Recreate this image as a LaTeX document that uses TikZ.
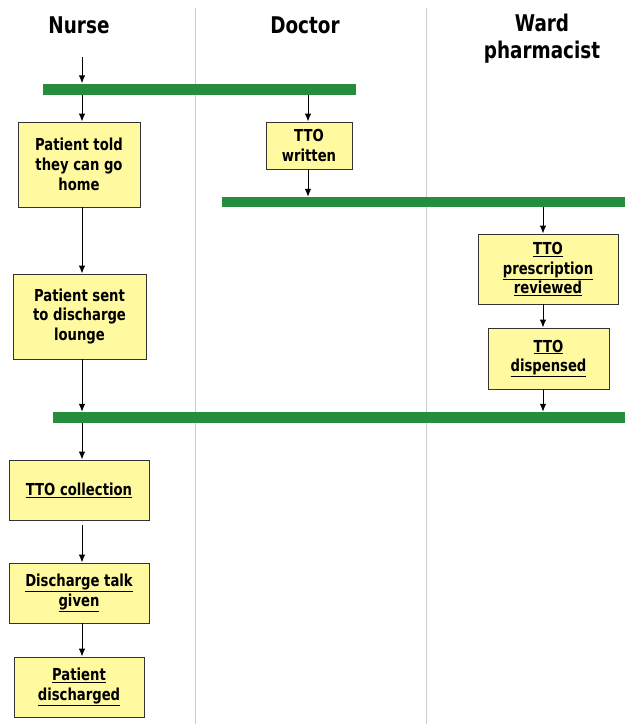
\documentclass[tikz,border=0pt]{standalone}
\usepackage{fontspec}
\setmainfont{DejaVu Sans}[FakeStretch=0.8]
\usetikzlibrary{arrows.meta,calc}
\definecolor{barGreen}{RGB}{38,140,62}
\definecolor{boxYellow}{RGB}{255,250,160}
\definecolor{laneGray}{RGB}{205,205,205}
\newcommand\uln[1]{\underline{#1}}

\begin{document}
\begin{tikzpicture}[x=1pt,y=-1pt,
  lane/.style={draw=laneGray,line width=1pt},
  header/.style={font=\bfseries\fontsize{23}{27}\selectfont,align=center,inner sep=0pt},
  task/.style={draw=black!80,fill=boxYellow,line width=0.9pt,align=center,
    font=\bfseries\fontsize{16.5}{19.8}\selectfont,inner sep=0pt},
  syncbar/.style={fill=barGreen,inner sep=0pt},
  flow/.style={line width=1pt,-{Latex[length=8pt,width=6.5pt]}}
]
\useasboundingbox[fill=white] (0,0) rectangle (625,724);

% swimlane dividers
\draw[lane] (195,8) -- (195,724);
\draw[lane] (426,8) -- (426,724);

% lane headers
\node[header] (hnurse) at (79,25) {Nurse};
\node[header] (hdoctor) at (305,25) {Doctor};
\node[header] (hpharm) at (542,39) {Ward\\pharmacist};

% lane x positions for the flow lines
\coordinate (nx) at (82,0);
\coordinate (dx) at (308,0);
\coordinate (px) at (543,0);
\coordinate (start) at (82,57);

% synchronisation bars
\node[syncbar,minimum width=313,minimum height=11] (bar1) at (199.5,89) {};
\node[syncbar,minimum width=403,minimum height=10] (bar2) at (423.5,202) {};
\node[syncbar,minimum width=572,minimum height=11] (bar3) at (339,417.5) {};

% activities
\node[task,minimum width=122,minimum height=85] (told) at (79,164.5) {Patient told\\they can go\\home};
\node[task,minimum width=86,minimum height=47] (written) at (309,145.5) {TTO\\written};
\node[task,minimum width=133,minimum height=85] (lounge) at (79.5,316.5) {Patient sent\\to discharge\\lounge};
\node[task,minimum width=140,minimum height=70] (reviewed) at (548,269) {\uln{TTO}\\\uln{prescription}\\\uln{reviewed}};
\node[task,minimum width=121,minimum height=61] (dispensed) at (548.5,358.5) {\uln{TTO}\\\uln{dispensed}};
\node[task,minimum width=140,minimum height=60] (collect) at (79,490) {\uln{TTO collection}};
\node[task,minimum width=140,minimum height=60] (talk) at (79,593) {\uln{Discharge talk}\\\uln{given}};
\node[task,minimum width=130,minimum height=60] (discharged) at (79,687) {\uln{Patient}\\\uln{discharged}};

% flow
\draw[flow] (start) -- (start |- bar1.north);
\draw[flow] (bar1.south -| nx) -- (told.north -| nx);
\draw[flow] (bar1.south -| dx) -- (written.north -| dx);
\draw[flow] (written.south -| dx) -- (bar2.north -| dx);
\draw[flow] (bar2.south -| px) -- (reviewed.north -| px);
\draw[flow] (reviewed.south -| px) -- (dispensed.north -| px);
\draw[flow] (dispensed.south -| px) -- (bar3.north -| px);
\draw[flow] (told.south -| nx) -- (lounge.north -| nx);
\draw[flow] (lounge.south -| nx) -- (bar3.north -| nx);
\draw[flow] (bar3.south -| nx) -- (collect.north -| nx);
\draw[flow,shorten <=5pt] (collect.south -| nx) -- (talk.north -| nx);
\draw[flow] (talk.south -| nx) -- (discharged.north -| nx);
\end{tikzpicture}
\end{document}
